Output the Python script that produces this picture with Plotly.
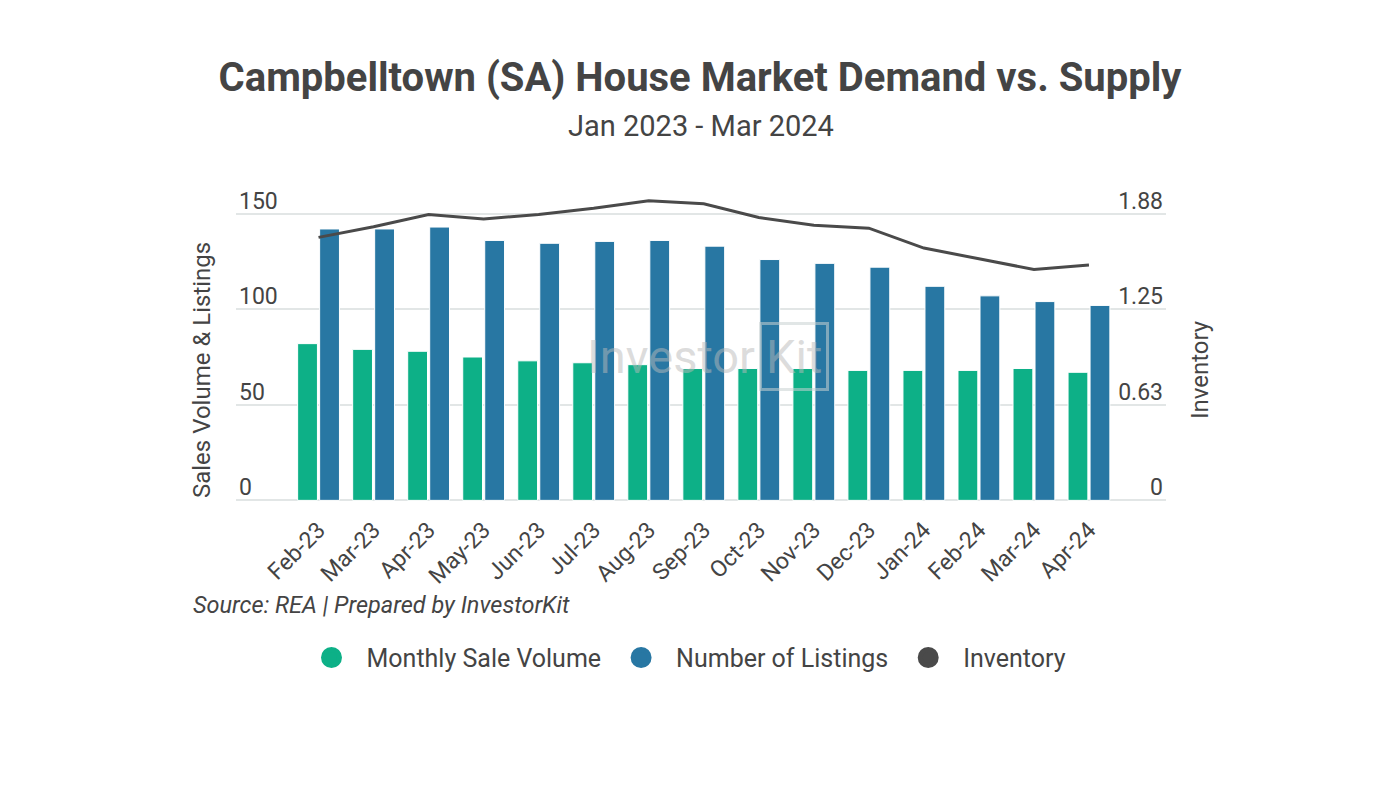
import plotly.graph_objects as go

months = ["Feb-23", "Mar-23", "Apr-23", "May-23", "Jun-23", "Jul-23", "Aug-23", "Sep-23",
          "Oct-23", "Nov-23", "Dec-23", "Jan-24", "Feb-24", "Mar-24", "Apr-24"]
sale_volume = [82, 79, 78, 75, 73, 72, 71, 69, 69, 69, 68, 68, 68, 69, 67]
listings = [142, 142, 143, 136, 134.5, 135.5, 136, 133, 126, 124, 122, 112, 107, 104, 102]
inventory = [1.72, 1.79, 1.87, 1.84, 1.87, 1.91, 1.96, 1.94, 1.85, 1.80, 1.78, 1.65, 1.58, 1.51, 1.54]

left_ticks = [0, 50, 100, 150]
right_ticks = [0, 0.625, 1.25, 1.875]
right_ticktext = ["0", "0.63", "1.25", "1.88"]

GREEN = "#0db087"
BLUE = "#2877a3"
LINE = "#4a4a4a"
TEXT = "#444444"
FONT = "Roboto"

# plot geometry (pixels)
Y_LO, Y_HI = -4, 165
PX_PER_UNIT = (500 - 214) / 150
PLOT_BOTTOM = 500 + (-Y_LO) * PX_PER_UNIT
PLOT_TOP = 500 - Y_HI * PX_PER_UNIT
PLOT_LEFT, PLOT_RIGHT = 236, 1166
RATIO = 1.875 / 150


def px_x(x):
    return (x - PLOT_LEFT) / (PLOT_RIGHT - PLOT_LEFT)


def px_y(y):
    return (PLOT_BOTTOM - y) / (PLOT_BOTTOM - PLOT_TOP)


fig = go.Figure()
fig.add_trace(go.Bar(x=months, y=sale_volume, name="Monthly Sale Volume", marker_color=GREEN,
                     marker_line=dict(color="white", width=1), showlegend=False))
fig.add_trace(go.Bar(x=months, y=listings, name="Number of Listings", marker_color=BLUE,
                     marker_line=dict(color="white", width=1), showlegend=False))
fig.add_trace(go.Scatter(x=months, y=inventory, name="Inventory", mode="lines",
                         line=dict(color=LINE, width=3), yaxis="y2", showlegend=False))

# legend entries with circular symbols
for nm, col in [("Monthly Sale Volume", GREEN), ("Number of Listings", BLUE), ("Inventory", LINE)]:
    fig.add_trace(go.Scatter(x=[None], y=[None], mode="markers", name=nm,
                             marker=dict(color=col, size=16, symbol="circle",
                                         line=dict(color=col, width=5))))

fig.update_layout(
    width=1400, height=800,
    margin=dict(l=PLOT_LEFT, r=1400 - PLOT_RIGHT, t=PLOT_TOP, b=800 - PLOT_BOTTOM),
    paper_bgcolor="white", plot_bgcolor="white",
    font=dict(family=FONT, color=TEXT),
    barmode="group", bargap=0.2, bargroupgap=0.1,
    title=dict(text="<b>Campbelltown (SA) House Market Demand vs. Supply</b>",
               x=0.5, xanchor="center", y=1 - 77 / 800, yanchor="middle",
               font=dict(size=40, color=TEXT, family=FONT)),
    xaxis=dict(type="category", range=[-1.5, 15.4], tickangle=-45, showgrid=False,
               tickfont=dict(size=23, color=TEXT), ticks="", showline=False, zeroline=False,
               ticklabelstandoff=3),
    yaxis=dict(range=[Y_LO, Y_HI], tickvals=left_ticks, showgrid=True, gridcolor="#e2e6e6",
               gridwidth=1.5, zeroline=False, showline=False, ticks="",
               ticklabelposition="inside", ticklabelshift=-13, ticklabelstandoff=0,
               tickfont=dict(size=23, color=TEXT)),
    yaxis2=dict(range=[Y_LO * RATIO, Y_HI * RATIO], overlaying="y", side="right",
                tickvals=right_ticks, ticktext=right_ticktext, showgrid=False, zeroline=False,
                showline=False, ticks="", ticklabelposition="inside", ticklabelshift=-13,
                ticklabelstandoff=0, tickfont=dict(size=23, color=TEXT)),
    legend=dict(orientation="h", x=px_x(700 - 16), xanchor="center", y=px_y(657),
                yanchor="middle", font=dict(size=25, color=TEXT), itemsizing="trace",
                itemwidth=60),
)

annotations = [
    dict(text="Jan 2023 - Mar 2024", x=0.5, y=px_y(127), xref="paper", yref="paper",
         xanchor="center", yanchor="middle", showarrow=False, font=dict(size=29, color=TEXT)),
    dict(text="Sales Volume & Listings", x=px_x(202), y=px_y(370), xref="paper",
         yref="paper", xanchor="center", yanchor="middle", textangle=-90, showarrow=False,
         font=dict(size=24, color=TEXT)),
    dict(text="Inventory", x=px_x(1200), y=px_y(370), xref="paper",
         yref="paper", xanchor="center", yanchor="middle", textangle=-90, showarrow=False,
         font=dict(size=24, color=TEXT)),
    dict(text="<i>Source: REA | Prepared by InvestorKit</i>", x=px_x(191),
         y=px_y(604), xref="paper", yref="paper", xanchor="left", yanchor="middle",
         showarrow=False, font=dict(size=23.5, color=TEXT)),
    # watermark
    dict(text="Investor", x=px_x(757), y=px_y(356), xref="paper", yref="paper",
         xanchor="right", yanchor="middle", showarrow=False,
         font=dict(size=47, color="rgba(185,185,185,0.5)")),
    dict(text="Kit", x=px_x(759), y=px_y(356), xref="paper", yref="paper",
         xanchor="left", yanchor="middle", showarrow=False, borderpad=4,
         bordercolor="rgba(200,210,210,0.55)", borderwidth=3,
         font=dict(size=47, color="rgba(185,185,185,0.5)")),
]
fig.update_layout(annotations=annotations)

fig.write_html("out.html")
